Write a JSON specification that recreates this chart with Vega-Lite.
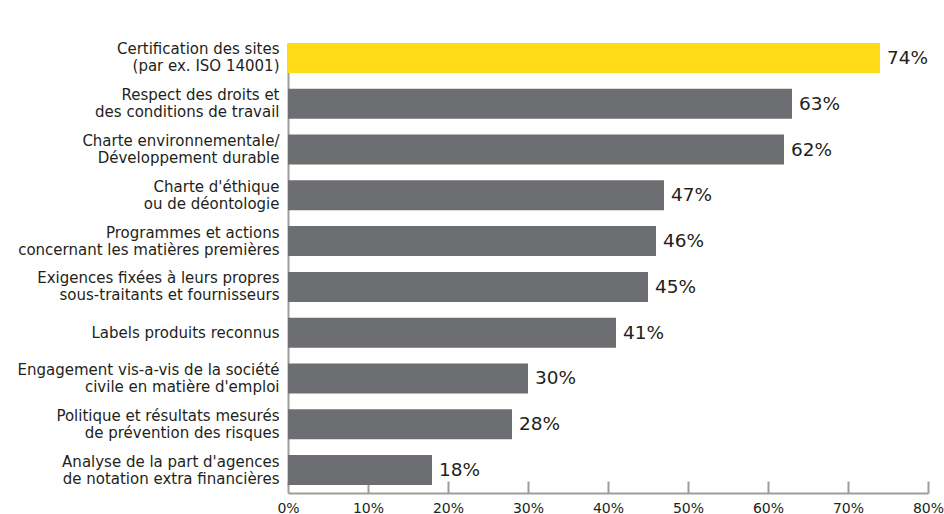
{
  "$schema": "https://vega.github.io/schema/vega-lite/v6.json",
  "width": 640,
  "height": 479,
  "autosize": {"type": "none"},
  "padding": {"left": 288, "top": 14, "right": 16, "bottom": 21},
  "background": "#ffffff",
  "config": {"view": {"stroke": null}, "font": "DejaVu Sans"},
  "data": {"values": [
    {"item": "Certification des sites|(par ex. ISO 14001)", "v": 0.74},
    {"item": "Respect des droits et|des conditions de travail", "v": 0.63},
    {"item": "Charte environnementale/|Développement durable", "v": 0.62},
    {"item": "Charte d'éthique|ou de déontologie", "v": 0.47},
    {"item": "Programmes et actions|concernant les matières premières", "v": 0.46},
    {"item": "Exigences fixées à leurs propres|sous-traitants et fournisseurs", "v": 0.45},
    {"item": "Labels produits reconnus", "v": 0.41},
    {"item": "Engagement vis-a-vis de la société|civile en matière d'emploi", "v": 0.30},
    {"item": "Politique et résultats mesurés|de prévention des risques", "v": 0.28},
    {"item": "Analyse de la part d'agences|de notation extra financières", "v": 0.18}
  ]},
  "encoding": {
    "y": {
      "field": "item", "type": "nominal", "sort": null,
      "scale": {"range": [29, 471], "paddingInner": 0.345, "paddingOuter": 0},
      "axis": {
        "title": null, "ticks": false, "domainColor": "#9d9d9d", "domainWidth": 2,
        "labelExpr": "split(datum.value, '|')", "labelFontSize": 15, "labelColor": "#231f20",
        "labelPadding": 9, "labelLineHeight": 17, "labelLimit": 300,
        "labelOffset": {"condition": {"test": "indexof(datum.value, '|') >= 0", "value": -8.5}, "value": 0}
      }
    },
    "x": {
      "field": "v", "type": "quantitative",
      "scale": {"domain": [0, 0.8]},
      "axis": {
        "title": null, "format": ".0%", "values": [0, 0.1, 0.2, 0.3, 0.4, 0.5, 0.6, 0.7, 0.8],
        "grid": false, "domainColor": "#9d9d9d", "domainWidth": 2, "tickColor": "#9d9d9d",
        "tickWidth": 2, "tickSize": -12, "labelFontSize": 14, "labelColor": "#231f20",
        "labelPadding": 20, "labelFlush": false
      }
    }
  },
  "layer": [
    {
      "mark": {"type": "bar"},
      "encoding": {
        "color": {
          "condition": {"test": "datum.v == 0.74", "value": "#fedb16"},
          "value": "#6d6e71"
        }
      }
    },
    {
      "mark": {"type": "text", "align": "left", "baseline": "middle", "dx": 7, "fontSize": 18.5, "color": "#231f20"},
      "encoding": {"text": {"field": "v", "type": "quantitative", "format": ".0%"}}
    }
  ]
}
